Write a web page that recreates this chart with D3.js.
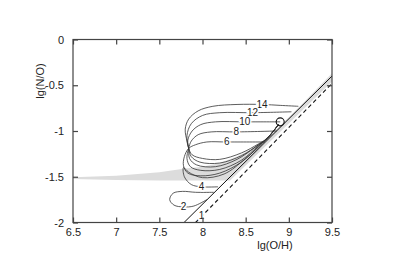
<!DOCTYPE html>
<html>
<head>
<meta charset="utf-8">
<script src="https://cdn.jsdelivr.net/npm/d3@7"></script>
<style>
  body { margin: 0; background: #fff; }
  text { font-family: "Liberation Sans", Arial, sans-serif; fill: #222; }
</style>
</head>
<body>
<svg id="chart"></svg>
<script>
const width = 393;
const height = 278;

// axis ticks
const xTicks = [6.5, 7, 7.5, 8, 8.5, 9, 9.5];
const yTicks = [0, -0.5, -1, -1.5, -2];

// grey band (upper edge left->right, lower edge right->left)
const bandUpper = [[6.5,-1.505],[7.0,-1.49],[7.5,-1.45],[7.8,-1.41],[8.0,-1.39],[8.2,-1.35],[8.4,-1.28],[8.6,-1.18],[8.8,-1.03],[9.0,-0.85],[9.2,-0.66],[9.5,-0.37]];
const bandLower = [[9.5,-0.46],[8.32,-1.54],[7.5,-1.54],[7.0,-1.535],[6.5,-1.525]];

const solidLine = [[7.786,-2],[9.5,-0.40]];
const dashedLine = [[7.92,-2],[9.5,-0.48]];

// tracks
const track14 = [[9.11,-0.73],[8.9,-0.72],[8.69,-0.71],[8.4,-0.71],[8.12,-0.73],[7.95,-0.78],[7.84,-0.87],[7.80,-0.98],[7.82,-1.11],[7.84,-1.19],[7.88,-1.26],[8.0,-1.30],[8.2,-1.31],[8.45,-1.24],[8.65,-1.14],[8.75,-1.08],[8.88,-0.93]];
const track12 = [[9.03,-0.79],[8.58,-0.80],[8.2,-0.80],[8.0,-0.83],[7.87,-0.92],[7.82,-1.05],[7.84,-1.19],[7.87,-1.28],[7.97,-1.34],[8.2,-1.35],[8.45,-1.27],[8.65,-1.15],[8.75,-1.08],[8.88,-0.93]];
const track10 = [[8.9,-0.90],[8.49,-0.90],[8.15,-0.90],[7.98,-0.93],[7.88,-1.0],[7.83,-1.1],[7.84,-1.19],[7.85,-1.30],[7.93,-1.37],[8.15,-1.39],[8.4,-1.31],[8.62,-1.17],[8.75,-1.08],[8.88,-0.93]];
const track8 = [[8.86,-1.0],[8.39,-1.01],[8.1,-1.01],[7.95,-1.04],[7.87,-1.11],[7.84,-1.19],[7.82,-1.30],[7.86,-1.39],[7.98,-1.43],[8.2,-1.42],[8.45,-1.32],[8.65,-1.16],[8.75,-1.08],[8.88,-0.93]];
const track6 = [[8.72,-1.12],[8.28,-1.12],[8.05,-1.12],[7.92,-1.15],[7.84,-1.19],[7.79,-1.28],[7.78,-1.38],[7.83,-1.46],[7.98,-1.49],[8.2,-1.46],[8.45,-1.34],[8.65,-1.17],[8.75,-1.08],[8.88,-0.93]];
const track4 = [[8.18,-1.61],[7.99,-1.61],[7.87,-1.585],[7.79,-1.50],[7.78,-1.40],[7.84,-1.45],[8.0,-1.51],[8.25,-1.47],[8.5,-1.30],[8.75,-1.08],[8.88,-0.93]];
const track2 = [[8.05,-1.75],[7.9,-1.82],[7.78,-1.83],[7.67,-1.81],[7.62,-1.75],[7.66,-1.68],[7.77,-1.66],[7.92,-1.67],[8.13,-1.67]];

const trackNames = ['14', '12', '10', '8', '6', '4', '2', '1'];
const labelPos = [[8.69,-0.71],[8.58,-0.80],[8.49,-0.90],[8.39,-1.01],[8.28,-1.12],[7.99,-1.61],[7.78,-1.83],[7.99,-1.925]];

const circlePoint = [8.9, -0.9];

const svg = d3.select('#chart')
    .attr('width', width)
    .attr('height', height);

const x = d3.scaleLinear().domain([6.5, 9.5]).range([73, 332]);
const y = d3.scaleLinear().domain([-2, 0]).range([222.5, 39.5]);

const line = d3.line().x(d => x(d[0])).y(d => y(d[1]));
const smooth = d3.line().x(d => x(d[0])).y(d => y(d[1])).curve(d3.curveCatmullRom.alpha(0.5));

const plot = svg.append('g');

// band
plot.append('path')
    .attr('d', line(bandUpper.concat(bandLower)) + 'Z')
    .attr('fill', '#dcdcdc')
    .attr('stroke', 'none');

// tracks
[track14, track12, track10, track8, track6, track4, track2].forEach(t => {
    plot.append('path')
        .attr('d', smooth(t))
        .attr('fill', 'none')
        .attr('stroke', '#333')
        .attr('stroke-width', 0.8);
});

plot.append('path')
    .attr('d', line(solidLine))
    .attr('fill', 'none')
    .attr('stroke', '#111')
    .attr('stroke-width', 1);

plot.append('path')
    .attr('d', line(dashedLine))
    .attr('fill', 'none')
    .attr('stroke', '#111')
    .attr('stroke-width', 1.1)
    .attr('stroke-dasharray', '4,3');

plot.append('circle')
    .attr('cx', x(circlePoint[0]))
    .attr('cy', y(circlePoint[1]))
    .attr('r', 4)
    .attr('fill', 'none')
    .attr('stroke', '#111')
    .attr('stroke-width', 1.1);

// track labels
plot.selectAll('.tlabel')
    .data(trackNames)
    .enter()
    .append('text')
    .attr('class', 'tlabel')
    .attr('x', (d, i) => x(labelPos[i][0]))
    .attr('y', (d, i) => y(labelPos[i][1]))
    .attr('dy', '0.35em')
    .attr('text-anchor', 'middle')
    .attr('font-size', 10)
    .attr('stroke', '#fff')
    .attr('stroke-width', 3)
    .attr('paint-order', 'stroke')
    .text(d => d);

// frame
svg.append('rect')
    .attr('x', x(6.5))
    .attr('y', y(0))
    .attr('width', x(9.5) - x(6.5))
    .attr('height', y(-2) - y(0))
    .attr('fill', 'none')
    .attr('stroke', '#444')
    .attr('stroke-width', 1.2);

const fmt = d => String(d);

const xAxis = svg.append('g')
    .attr('transform', `translate(0, ${y(-2)})`)
    .call(d3.axisBottom(x).tickValues(xTicks).tickFormat(fmt).tickSizeInner(-5).tickSizeOuter(0).tickPadding(6));
const yAxis = svg.append('g')
    .attr('transform', `translate(${x(6.5)}, 0)`)
    .call(d3.axisLeft(y).tickValues(yTicks).tickFormat(fmt).tickSizeInner(-5).tickSizeOuter(0).tickPadding(9));
const xTop = svg.append('g')
    .attr('transform', `translate(0, ${y(0)})`)
    .call(d3.axisTop(x).tickValues(xTicks).tickFormat('').tickSizeInner(-5).tickSizeOuter(0));
const yRight = svg.append('g')
    .attr('transform', `translate(${x(9.5)}, 0)`)
    .call(d3.axisRight(y).tickValues(yTicks).tickFormat('').tickSizeInner(-5).tickSizeOuter(0));

[xAxis, yAxis, xTop, yRight].forEach(a => {
    a.select('.domain').remove();
    a.selectAll('.tick line').attr('stroke', '#444').attr('stroke-width', 1.2);
    a.selectAll('text')
        .attr('font-size', 11)
        .attr('font-family', '"Liberation Sans", Arial, sans-serif')
        .attr('fill', '#222');
});

svg.append('text')
    .attr('x', 275)
    .attr('y', 249)
    .attr('text-anchor', 'middle')
    .attr('font-size', 11)
    .text('lg(O/H)');

svg.append('text')
    .attr('transform', 'translate(44, 81) rotate(-90)')
    .attr('text-anchor', 'middle')
    .attr('font-size', 11)
    .text('lg(N/O)');
</script>
</body>
</html>
